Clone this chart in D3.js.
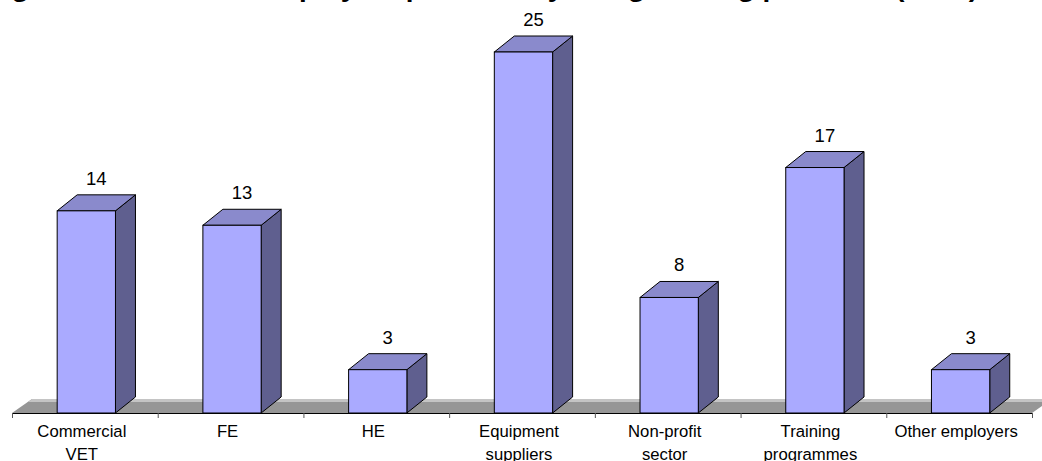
<!DOCTYPE html>
<html>
<head>
<meta charset="utf-8">
<script src="https://cdn.jsdelivr.net/npm/d3@7"></script>
<style>
  html, body { margin: 0; padding: 0; background: #fff; }
  svg { display: block; }
</style>
</head>
<body>
<svg id="chart" width="1042" height="461"></svg>
<script>
const title = "Figure 3: Number of employers provided by using training provision (n=83)";
const categories = ["Commercial VET", "FE", "HE", "Equipment suppliers", "Non-profit sector", "Training programmes", "Other employers"];
const tickLabels = [["Commercial", "VET"], ["FE"], ["HE"], ["Equipment", "suppliers"], ["Non-profit", "sector"], ["Training", "programmes"], ["Other employers"]];
const values = [14, 13, 3, 25, 8, 17, 3];

const W = 1042, H = 461;
const svg = d3.select("#chart");
const font = "'Liberation Sans', Arial, sans-serif";

const baseY = 413;
const dx = 20, dy = 16;

const x = d3.scaleBand().domain(categories).range([12, 1032]).paddingInner(0).paddingOuter(0);
const y = d3.scaleLinear().domain([0, 25]).range([baseY, 52]);

const bw = x.bandwidth();
const barOff = bw * 0.31;
const barW = bw * 0.4;

// Title (cut at top as in reference)
svg.append("text")
  .attr("x", -13).attr("y", -3)
  .attr("textLength", 991).attr("lengthAdjust", "spacingAndGlyphs")
  .attr("font-family", font).attr("font-size", 24).attr("font-weight", "bold")
  .attr("fill", "#000")
  .text(title);

// Floor
const x0 = x.range()[0], x1 = x.range()[1];
svg.append("path")
  .attr("d", `M${x0},${baseY} L${x0 + dx},${baseY - dy + 2} L${x1 + dx},${baseY - dy + 2} L${x1},${baseY} Z`)
  .attr("fill", "#969696");
svg.append("path")
  .attr("d", `M${x0 + dx},${baseY - dy + 2} L${x1 + dx},${baseY - dy + 2} L${x1 + dx - 4},${baseY - dy + 5} L${x0 + dx - 4},${baseY - dy + 5} Z`)
  .attr("fill", "#c4c4c4");

// Axis
const axisG = svg.append("g").attr("transform", `translate(0,${baseY})`)
  .call(d3.axisBottom(x).tickSize(0).tickSizeOuter(5).tickFormat(""));
axisG.select(".domain").attr("stroke", "#000").attr("stroke-width", 1);
axisG.selectAll(".tick").remove();

// boundary ticks
const bounds = categories.map(c => x(c)).concat([x1]);
svg.append("g").selectAll("line").data(bounds).join("line")
  .attr("x1", d => d + 0.5).attr("x2", d => d + 0.5)
  .attr("y1", baseY).attr("y2", baseY + 5)
  .attr("stroke", "#555").attr("stroke-width", 1);

// category labels
const lab = svg.append("g");
categories.forEach((c, i) => {
  const t = lab.append("text")
    .attr("x", x(c) + bw / 2 - 3)
    .attr("y", 437)
    .attr("text-anchor", "middle")
    .attr("font-family", font).attr("font-size", 16.7)
    .attr("fill", "#000");
  tickLabels[i].forEach((ln, j) => {
    t.append("tspan").attr("x", x(c) + bw / 2 - 3).attr("dy", j === 0 ? 0 : 23).text(ln);
  });
});

// Bars
const bars = svg.append("g").selectAll("g").data(categories.map((c, i) => ({c, v: values[i]}))).join("g");
bars.each(function(d) {
  const g = d3.select(this);
  const bx = x(d.c) + barOff;
  const ty = y(d.v);
  // side face
  g.append("path")
    .attr("d", `M${bx + barW},${baseY} L${bx + barW},${ty} L${bx + barW + dx},${ty - dy} L${bx + barW + dx},${baseY - dy} Z`)
    .attr("fill", "#5f5f8f").attr("stroke", "#000").attr("stroke-width", 1).attr("stroke-linejoin", "round");
  // top face
  g.append("path")
    .attr("d", `M${bx},${ty} L${bx + dx},${ty - dy} L${bx + barW + dx},${ty - dy} L${bx + barW},${ty} Z`)
    .attr("fill", "#8a8acc").attr("stroke", "#000").attr("stroke-width", 1).attr("stroke-linejoin", "round");
  // front face
  g.append("rect")
    .attr("x", bx).attr("y", ty).attr("width", barW).attr("height", baseY - ty)
    .attr("fill", "#aaaaff").attr("stroke", "#000").attr("stroke-width", 1);
  // value label
  g.append("text")
    .attr("x", bx + barW / 2 + 10)
    .attr("y", ty - 26)
    .attr("text-anchor", "middle")
    .attr("font-family", font).attr("font-size", 18.5)
    .attr("fill", "#000")
    .text(d.v);
});
</script>
</body>
</html>
